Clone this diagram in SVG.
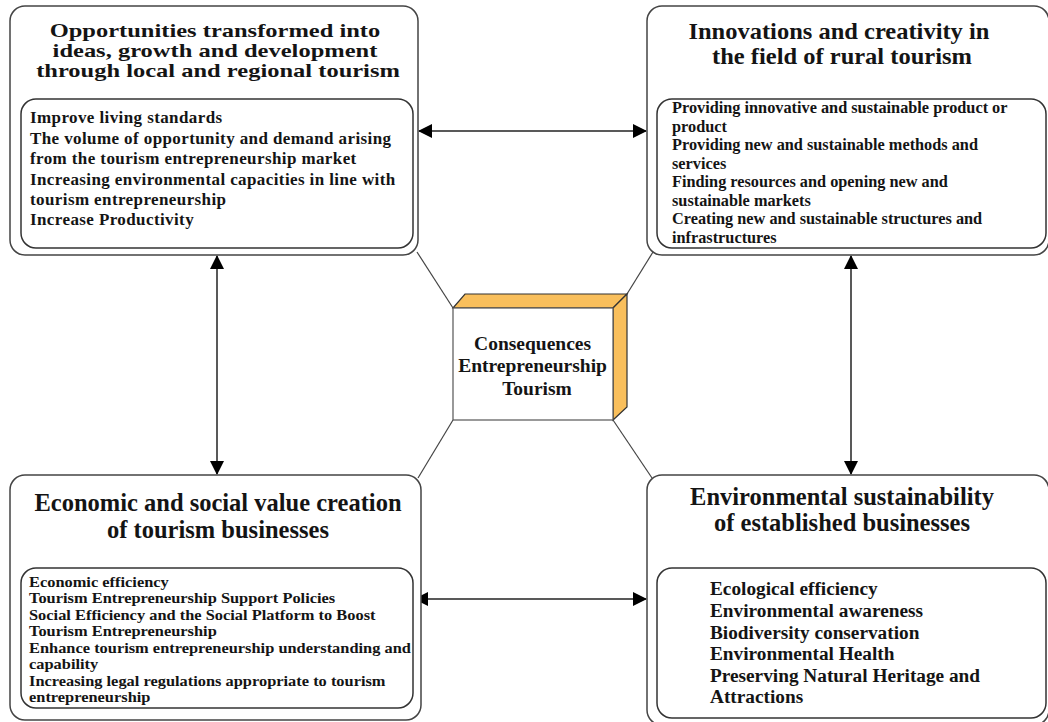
<svg xmlns="http://www.w3.org/2000/svg" width="1048" height="722" viewBox="0 0 1048 722">
<style>
.outer{fill:#fff;stroke:#444;stroke-width:1.5}
.inner{fill:#fff;stroke:#333;stroke-width:1.5}
.t{font-family:"Liberation Serif","Times New Roman",serif;font-weight:bold;fill:#141414}
.title{font-size:24.5px;text-anchor:middle}
.conn{stroke:#222;stroke-width:1.5;fill:none}
.diag{stroke:#444;stroke-width:1.2;fill:none}
</style>
<defs>
<marker id="ah" viewBox="0 0 14 14" refX="13" refY="7" markerWidth="14" markerHeight="14" markerUnits="userSpaceOnUse" orient="auto-start-reverse">
<path d="M0,0 L14,7 L0,14 Z" fill="#000"/>
</marker>
</defs>
<rect width="1048" height="722" fill="#fff"/>
<g id="connectors">
<line class="diag" x1="453" y1="308" x2="417" y2="252"/>
<line class="diag" x1="627" y1="294" x2="653" y2="252"/>
<line class="diag" x1="453" y1="420" x2="418" y2="478"/>
<line class="diag" x1="613" y1="420" x2="652" y2="478"/>
<line class="conn" x1="419" y1="131" x2="646" y2="131" marker-start="url(#ah)" marker-end="url(#ah)"/>
<line class="conn" x1="217" y1="256" x2="217" y2="474" marker-start="url(#ah)" marker-end="url(#ah)"/>
<line class="conn" x1="851" y1="256" x2="851" y2="474" marker-start="url(#ah)" marker-end="url(#ah)"/>
<line class="conn" x1="415" y1="599" x2="646" y2="599" marker-start="url(#ah)" marker-end="url(#ah)"/>
</g>
<g id="opportunities">
<rect class="outer" x="10" y="6" width="408" height="249" rx="15"/>
<text class="t title" transform="translate(218,0) scale(1,0.73)">
<tspan x="0" y="50.68">Opportunities transformed into</tspan>
<tspan x="0" y="78.08">ideas, growth and development</tspan>
<tspan x="0" y="105.48">through local and regional tourism</tspan>
</text>
<rect class="inner" x="21" y="99" width="392" height="149" rx="15"/>
<text class="t" style="font-size:17px;letter-spacing:0.4px">
<tspan x="30" y="123">Improve living standards</tspan>
<tspan x="30" y="144">The volume of opportunity and demand arising</tspan>
<tspan x="30" y="164">from the tourism entrepreneurship market</tspan>
<tspan x="30" y="185">Increasing environmental capacities in line with</tspan>
<tspan x="30" y="205">tourism entrepreneurship</tspan>
<tspan x="30" y="225">Increase Productivity</tspan>
</text>
</g>
<g id="innovations">
<rect class="outer" x="647" y="6" width="402" height="249" rx="15"/>
<text class="t title" transform="translate(842,0) scale(1,0.9)">
<tspan x="0" y="43.33">Innovations and creativity in</tspan>
<tspan x="0" y="71.11">the field of rural tourism</tspan>
</text>
<rect class="inner" x="657" y="99" width="389" height="149" rx="15"/>
<text class="t" style="font-size:16.3px">
<tspan x="672" y="113">Providing innovative and sustainable product or</tspan>
<tspan x="672" y="131.5">product</tspan>
<tspan x="672" y="150">Providing new and sustainable methods and</tspan>
<tspan x="672" y="168.5">services</tspan>
<tspan x="672" y="187">Finding resources and opening new and</tspan>
<tspan x="672" y="205.5">sustainable markets</tspan>
<tspan x="672" y="224">Creating new and sustainable structures and</tspan>
<tspan x="672" y="242.5">infrastructures</tspan>
</text>
</g>
<g id="economic">
<rect class="outer" x="10" y="475" width="411" height="245" rx="15"/>
<text class="t title" x="218" y="511">Economic and social value creation</text>
<text class="t title" x="218" y="538">of tourism businesses</text>
<rect class="inner" x="21" y="568" width="392" height="140" rx="15"/>
<text class="t" style="font-size:16.4px" transform="translate(29,0) scale(1,0.9)">
<tspan x="0" y="652.22">Economic efficiency</tspan>
<tspan x="0" y="670.56">Tourism Entrepreneurship Support Policies</tspan>
<tspan x="0" y="688.89">Social Efficiency and the Social Platform to Boost</tspan>
<tspan x="0" y="707.22">Tourism Entrepreneurship</tspan>
<tspan x="0" y="725.56">Enhance tourism entrepreneurship understanding and</tspan>
<tspan x="0" y="743.89">capability</tspan>
<tspan x="0" y="762.22">Increasing legal regulations appropriate to tourism</tspan>
<tspan x="0" y="780.56">entrepreneurship</tspan>
</text>
</g>
<g id="environmental">
<rect class="outer" x="647" y="475" width="402" height="250" rx="15"/>
<text class="t title" x="842" y="505">Environmental sustainability</text>
<text class="t title" x="842" y="531">of established businesses</text>
<rect class="inner" x="657" y="568" width="389" height="150" rx="15"/>
<text class="t" style="font-size:19.3px">
<tspan x="710" y="595">Ecological efficiency</tspan>
<tspan x="710" y="617">Environmental awareness</tspan>
<tspan x="710" y="638.5">Biodiversity conservation</tspan>
<tspan x="710" y="660">Environmental Health</tspan>
<tspan x="710" y="681.5">Preserving Natural Heritage and</tspan>
<tspan x="710" y="703">Attractions</tspan>
</text>
</g>
<g id="center">
<polygon points="453,308 465,294 627,294 613,308" fill="#F9BF5C" stroke="#333" stroke-width="1.2"/>
<polygon points="613,308 627,294 627,407 613,420" fill="#F9BF5C" stroke="#333" stroke-width="1.2"/>
<rect x="453" y="308" width="160" height="112" fill="#fff" stroke="#555" stroke-width="1.2"/>
<text class="t" style="font-size:19.5px;text-anchor:middle">
<tspan x="535" y="350">Consequences</tspan>
<tspan x="535" y="372">Entrepreneurship</tspan>
<tspan x="537" y="395">Tourism</tspan>
</text>
</g>
</svg>
